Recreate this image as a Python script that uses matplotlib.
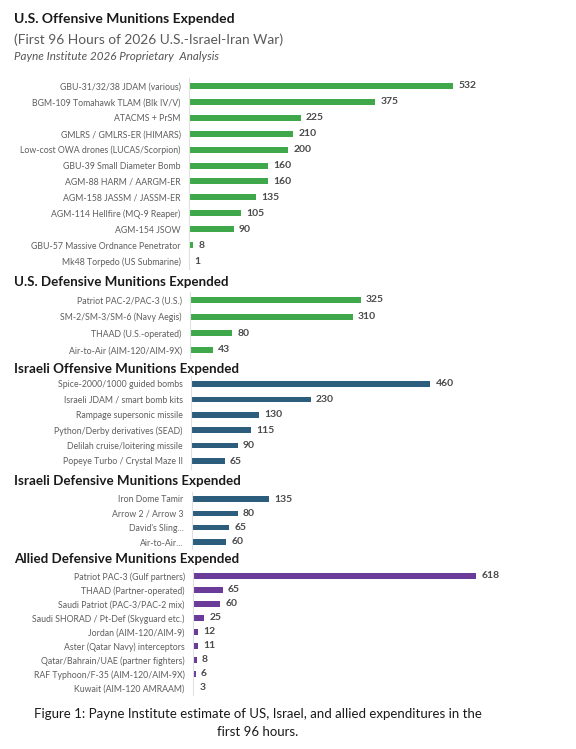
import matplotlib
matplotlib.use("Agg")
import matplotlib.pyplot as plt

plt.rcParams['font.family'] = ['Lato', 'DejaVu Sans']

W, H = 576, 749

# data -------------------------------------------------------------
us_off_labels = ["GBU-31/32/38 JDAM (various)", "BGM-109 Tomahawk TLAM (Blk IV/V)",
                 "ATACMS + PrSM", "GMLRS / GMLRS-ER (HIMARS)",
                 "Low-cost OWA drones (LUCAS/Scorpion)", "GBU-39 Small Diameter Bomb",
                 "AGM-88 HARM / AARGM-ER", "AGM-158 JASSM / JASSM-ER",
                 "AGM-114 Hellfire (MQ-9 Reaper)", "AGM-154 JSOW",
                 "GBU-57 Massive Ordnance Penetrator", "Mk48 Torpedo (US Submarine)"]
us_off_values = [532, 375, 225, 210, 200, 160, 160, 135, 105, 90, 8, 1]

us_def_labels = ["Patriot PAC-2/PAC-3 (U.S.)", "SM-2/SM-3/SM-6 (Navy Aegis)",
                 "THAAD (U.S.-operated)", "Air-to-Air (AIM-120/AIM-9X)"]
us_def_values = [325, 310, 80, 43]

il_off_labels = ["Spice-2000/1000 guided bombs", "Israeli JDAM / smart bomb kits",
                 "Rampage supersonic missile", "Python/Derby derivatives (SEAD)",
                 "Delilah cruise/loitering missile", "Popeye Turbo / Crystal Maze II"]
il_off_values = [460, 230, 130, 115, 90, 65]

il_def_labels = ["Iron Dome Tamir", "Arrow 2 / Arrow 3", "David's Sling...", "Air-to-Air..."]
il_def_values = [135, 80, 65, 60]

al_def_labels = ["Patriot PAC-3 (Gulf partners)", "THAAD (Partner-operated)",
                 "Saudi Patriot (PAC-3/PAC-2 mix)", "Saudi SHORAD / Pt-Def (Skyguard etc.)",
                 "Jordan (AIM-120/AIM-9)", "Aster (Qatar Navy) interceptors",
                 "Qatar/Bahrain/UAE (partner fighters)", "RAF Typhoon/F-35 (AIM-120/AIM-9X)",
                 "Kuwait (AIM-120 AMRAAM)"]
al_def_values = [618, 65, 60, 25, 12, 11, 8, 6, 3]

GREEN = "#3fa84b"
BLUE = "#2d5d7c"
PURPLE = "#6a3b98"

fig = plt.figure(figsize=(W / 100, H / 100), dpi=100)
fig.patch.set_facecolor("white")


def title(text, ypx, size=9.6, **kw):
    fig.text(14 / W, 1 - ypx / H, text, ha="left", va="center", fontsize=size,
             fontweight="bold", color="#1a1a1a", **kw)


def panel(labels, values, color, x0, scale, first_row, last_row, bar_frac=0.38):
    n = len(values)
    step = (last_row - first_row) / (n - 1)
    top = first_row - step / 2
    bottom = last_row + step / 2
    width_px = 560 - x0
    ax = fig.add_axes([x0 / W, 1 - bottom / H, width_px / W, (bottom - top) / H])
    ypos = list(range(n))
    ax.barh(ypos, values, height=bar_frac, color=color)
    ax.set_xlim(0, width_px / scale)
    ax.set_ylim(n - 0.5, -0.5)
    for y, v in zip(ypos, values):
        ax.annotate(str(v), (v, y), xytext=(3.8, 0), textcoords="offset points",
                    ha="left", va="center", fontsize=7.5, fontweight="bold",
                    color="#4a4a4a")
    ax.set_yticks(ypos)
    ax.set_yticklabels(labels, fontsize=6.3, color="#5e5e5e")
    ax.tick_params(axis="y", length=0, pad=6)
    ax.set_xticks([])
    for s in ["top", "right", "bottom"]:
        ax.spines[s].set_visible(False)
    ax.spines["left"].set_color("#e0e0e0")
    ax.spines["left"].set_linewidth(0.8)
    ax.set_facecolor("none")
    return ax


title("U.S. Offensive Munitions Expended", 19, size=10)
fig.text(14 / W, 1 - 40 / H, "(First 96 Hours of 2026 U.S.-Israel-Iran War)",
         ha="left", va="center", fontsize=9.9, color="#5a5a5a")
fig.text(14 / W, 1 - 57 / H, "Payne Institute 2026 Proprietary  Analysis",
         ha="left", va="center", fontsize=8.4, style="italic", color="#555555")

panel(us_off_labels, us_off_values, GREEN, 189, 0.496, 86, 261)

title("U.S. Defensive Munitions Expended", 282)
panel(us_def_labels, us_def_values, GREEN, 190, 0.525, 300, 350, bar_frac=0.36)

title("Israeli Offensive Munitions Expended", 369)
panel(il_off_labels, il_off_values, BLUE, 191, 0.52, 384, 461, bar_frac=0.36)

title("Israeli Defensive Munitions Expended", 481)
panel(il_def_labels, il_def_values, BLUE, 192, 0.573, 499, 542, bar_frac=0.38)

title("Allied Defensive Munitions Expended", 559)
panel(al_def_labels, al_def_values, PURPLE, 193, 0.458, 576, 688, bar_frac=0.38)

fig.text(258 / W, 1 - 714 / H,
         "Figure 1: Payne Institute estimate of US, Israel, and allied expenditures in the",
         ha="center", va="center", fontsize=9.5, color="#1a1a1a")
fig.text(258 / W, 1 - 732 / H, "first 96 hours.",
         ha="center", va="center", fontsize=9.5, color="#1a1a1a")

fig.savefig("out.png", dpi=100, facecolor="white")
